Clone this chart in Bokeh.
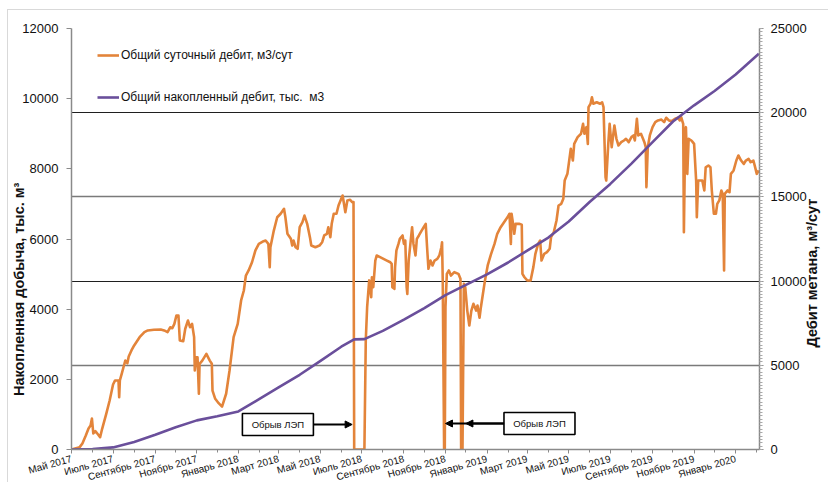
import math
import pandas as pd
from bokeh.plotting import figure
from bokeh.models import (Range1d, LinearAxis, FixedTicker, Legend, LegendItem,
                          Arrow, NormalHead, Grid)
from bokeh.embed import file_html
from bokeh.resources import INLINE
from bokeh.core.properties import value

FONT = "Liberation Sans"

# Total daily methane rate, m3/day (right axis)
rate_dates = [
    "2017-05-01", "2017-05-13", "2017-05-17", "2017-05-22", "2017-05-26", "2017-05-29",
    "2017-05-31", "2017-06-02", "2017-06-05", "2017-06-09", "2017-06-12", "2017-06-15",
    "2017-06-21", "2017-06-26", "2017-07-01", "2017-07-04", "2017-07-09", "2017-07-10",
    "2017-07-11", "2017-07-14", "2017-07-17", "2017-07-19", "2017-07-22", "2017-07-24",
    "2017-07-28", "2017-08-01", "2017-08-09", "2017-08-16", "2017-08-21", "2017-08-30",
    "2017-09-09", "2017-09-14", "2017-09-19", "2017-09-23", "2017-09-26", "2017-09-29",
    "2017-10-02", "2017-10-05", "2017-10-07", "2017-10-12", "2017-10-15", "2017-10-19",
    "2017-10-22", "2017-10-25", "2017-10-28", "2017-10-29", "2017-10-31", "2017-11-02",
    "2017-11-04", "2017-11-05", "2017-11-09", "2017-11-15", "2017-11-20", "2017-11-23",
    "2017-11-24", "2017-11-28", "2017-12-03", "2017-12-08", "2017-12-14", "2017-12-19",
    "2017-12-25", "2017-12-31", "2018-01-05", "2018-01-09", "2018-01-12", "2018-01-16",
    "2018-01-21", "2018-01-26", "2018-01-31", "2018-02-07", "2018-02-10", "2018-02-14",
    "2018-02-16", "2018-02-17", "2018-02-22", "2018-02-27", "2018-03-04", "2018-03-09",
    "2018-03-11", "2018-03-14", "2018-03-19", "2018-03-21", "2018-03-23", "2018-03-26",
    "2018-03-29", "2018-04-01", "2018-04-05", "2018-04-08", "2018-04-12", "2018-04-16",
    "2018-04-18", "2018-04-24", "2018-04-30", "2018-05-04", "2018-05-07", "2018-05-11",
    "2018-05-13", "2018-05-16", "2018-05-18", "2018-05-21", "2018-05-25", "2018-05-28",
    "2018-06-01", "2018-06-03", "2018-06-05", "2018-06-07", "2018-06-10", "2018-06-14",
    "2018-06-17", "2018-06-19", "2018-06-20", "2018-07-05", "2018-07-07", "2018-07-09",
    "2018-07-12", "2018-07-15", "2018-07-16", "2018-07-18", "2018-07-21", "2018-07-23",
    "2018-07-28", "2018-08-02", "2018-08-07", "2018-08-12", "2018-08-14", "2018-08-15",
    "2018-08-18", "2018-08-19", "2018-08-21", "2018-08-24", "2018-08-26", "2018-08-30",
    "2018-09-01", "2018-09-03", "2018-09-05", "2018-09-06", "2018-09-08", "2018-09-11",
    "2018-09-13", "2018-09-15", "2018-09-18", "2018-09-20", "2018-09-23", "2018-09-27",
    "2018-09-30", "2018-10-03", "2018-10-05", "2018-10-07", "2018-10-10", "2018-10-13",
    "2018-10-16", "2018-10-20", "2018-10-23", "2018-10-26", "2018-10-27", "2018-10-28",
    "2018-10-30", "2018-10-31", "2018-11-01", "2018-11-03", "2018-11-06", "2018-11-09",
    "2018-11-14", "2018-11-20", "2018-11-23", "2018-11-24", "2018-11-26", "2018-11-28",
    "2018-11-30", "2018-12-03", "2018-12-06", "2018-12-09", "2018-12-12", "2018-12-16",
    "2018-12-18", "2018-12-21", "2018-12-23", "2018-12-26", "2018-12-29", "2019-01-02",
    "2019-01-07", "2019-01-12", "2019-01-16", "2019-01-21", "2019-01-26", "2019-01-31",
    "2019-02-03", "2019-02-05", "2019-02-06", "2019-02-09", "2019-02-10", "2019-02-12",
    "2019-02-17", "2019-02-21", "2019-02-22", "2019-02-25", "2019-03-01", "2019-03-06",
    "2019-03-10", "2019-03-13", "2019-03-17", "2019-03-20", "2019-03-22", "2019-03-26",
    "2019-03-30", "2019-04-03", "2019-04-05", "2019-04-09", "2019-04-13", "2019-04-16",
    "2019-04-20", "2019-04-23", "2019-04-25", "2019-04-29", "2019-05-03", "2019-05-04",
    "2019-05-07", "2019-05-09", "2019-05-14", "2019-05-19", "2019-05-22", "2019-05-24",
    "2019-05-27", "2019-05-29", "2019-05-30", "2019-06-02", "2019-06-04", "2019-06-06",
    "2019-06-11", "2019-06-16", "2019-06-19", "2019-06-21", "2019-06-24", "2019-06-25",
    "2019-06-28", "2019-06-30", "2019-07-03", "2019-07-07", "2019-07-10", "2019-07-13",
    "2019-07-17", "2019-07-21", "2019-07-24", "2019-07-28", "2019-08-01", "2019-08-04",
    "2019-08-06", "2019-08-09", "2019-08-11", "2019-08-15", "2019-08-18", "2019-08-20",
    "2019-08-22", "2019-08-23", "2019-08-25", "2019-08-28", "2019-09-01", "2019-09-05",
    "2019-09-09", "2019-09-14", "2019-09-18", "2019-09-21", "2019-09-25", "2019-09-29",
    "2019-10-04", "2019-10-08", "2019-10-11", "2019-10-13", "2019-10-16", "2019-10-17",
    "2019-10-19", "2019-10-20", "2019-10-22", "2019-10-24", "2019-10-28", "2019-10-30",
    "2019-11-01", "2019-11-04", "2019-11-05", "2019-11-07", "2019-11-11", "2019-11-13",
    "2019-11-16", "2019-11-18", "2019-11-22", "2019-11-25", "2019-11-27", "2019-11-30",
    "2019-12-03", "2019-12-05", "2019-12-08", "2019-12-11", "2019-12-13", "2019-12-15",
    "2019-12-16", "2019-12-20", "2019-12-23", "2019-12-25", "2019-12-29", "2020-01-02",
    "2020-01-05", "2020-01-09", "2020-01-13", "2020-01-16", "2020-01-20", "2020-01-23",
    "2020-01-27", "2020-01-29", "2020-02-01", "2020-02-04",
]
rate_values = [
    0, 140, 360, 830, 1250, 1420,
    1840, 950, 1090, 890, 730, 1230,
    2120, 2910, 3860, 4100, 4100, 3100,
    4100, 4530, 4990, 5280, 5120, 5520,
    5880, 6180, 6670, 6970, 7070, 7110,
    7130, 7070, 6970, 7260, 7200, 7460,
    7960, 7960, 6470, 6430, 7170, 7660,
    7260, 7460, 6670, 4690, 5480, 5480,
    3310, 5090, 5280, 5680, 5280, 5090,
    3500, 3010, 2750, 2550, 3310, 4690,
    6670, 7460, 8850, 9440, 10330, 10630,
    11120, 11820, 12210, 12370, 12410, 12210,
    10830, 12010, 13000, 13790, 14000, 14290,
    13790, 12810, 12510, 12110, 12410, 12010,
    11920, 13200, 13500, 13890, 13400, 12610,
    12110, 12010, 12110, 12310, 12710, 12810,
    13200, 12610, 13400, 14000, 14000, 14490,
    14890, 15080, 14590, 14090, 14790, 14830,
    14690, 14690, 0, 0, 6470, 8450,
    10040, 9040, 10230, 9640, 11220, 11520,
    11420, 11320, 11220, 11120, 11020, 9640,
    9540, 10830, 11820, 12210, 12510, 12710,
    12210, 12410, 9640, 9240, 11220, 12410,
    13200, 12210, 11520, 12510, 12710, 13000,
    13200, 13400, 12010, 10730, 11220, 10930,
    11220, 11320, 11520, 12010, 12310, 10040,
    0, 0, 8450, 10430, 10630, 10330,
    10530, 10430, 10140, 0, 0, 9840,
    9640, 8250, 7360, 8250, 8650, 8250,
    8550, 7820, 8450, 9250, 10040, 10930,
    11620, 12210, 12810, 13200, 13500, 13790,
    14000, 12210, 14000, 13200, 12810, 13400,
    13400, 13350, 10430, 10230, 10040, 10040,
    10830, 11620, 12210, 12410, 11220, 11620,
    11720, 11920, 12610, 12900, 13600, 14490,
    14590, 14890, 15970, 16370, 17560, 17860,
    17160, 18150, 18550, 18750, 19340, 18750,
    19140, 18150, 20330, 20530, 20920, 20530,
    20620, 20530, 20620, 20330, 16170, 15970,
    18150, 19340, 17950, 19240, 18450, 18050,
    18250, 18350, 18450, 18250, 18550, 18650,
    18350, 19640, 18650, 18750, 18450, 18250,
    17950, 15580, 17950, 18650, 19140, 19440,
    19540, 19590, 19440, 19700, 19540, 19500,
    19640, 19700, 19540, 19730, 19340, 12900,
    18940, 19140, 16370, 18450, 18350, 18250,
    18150, 15970, 13790, 15970, 15970, 15970,
    15380, 16760, 16860, 16760, 15380, 14000,
    14000, 14590, 14790, 15380, 15180, 10630,
    15180, 15380, 15280, 16370, 16570, 17160,
    17460, 17160, 16960, 17160, 17260, 17060,
    17160, 16860, 16370, 16570,
]

# Total cumulative production, thousand m3 (left axis)
cum_dates = [
    "2017-05-01", "2017-06-01", "2017-07-01", "2017-08-01", "2017-09-01", "2017-10-01",
    "2017-11-01", "2017-12-01", "2018-01-01", "2018-02-01", "2018-03-01", "2018-04-01",
    "2018-05-01", "2018-06-01", "2018-06-20", "2018-07-05", "2018-08-01", "2018-09-01",
    "2018-10-01", "2018-11-01", "2018-12-01", "2019-01-01", "2019-02-01", "2019-03-01",
    "2019-04-01", "2019-05-01", "2019-06-01", "2019-07-01", "2019-08-01", "2019-09-01",
    "2019-10-01", "2019-11-01", "2019-12-01", "2020-01-01", "2020-02-04",
]
cum_values = [
    0, 10, 60, 215, 420, 635,
    830, 945, 1085, 1440, 1770, 2130,
    2520, 2930, 3140, 3145, 3380, 3700,
    4030, 4400, 4690, 4990, 5330, 5670,
    6040, 6500, 7060, 7570, 8150, 8760,
    9350, 9810, 10220, 10690, 11280,
]

# Date axis: labelled every second month, minor tick every month
tick_dates = [
    "2017-05-01", "2017-07-01", "2017-09-01", "2017-11-01", "2018-01-01", "2018-03-01",
    "2018-05-01", "2018-07-01", "2018-09-01", "2018-11-01", "2019-01-01", "2019-03-01",
    "2019-05-01", "2019-07-01", "2019-09-01", "2019-11-01", "2020-01-01",
]
tick_labels = [
    "Май 2017", "Июль 2017", "Сентябрь 2017", "Ноябрь 2017", "Январь 2018", "Март 2018",
    "Май 2018", "Июль 2018", "Сентябрь 2018", "Ноябрь 2018", "Январь 2019", "Март 2019",
    "Май 2019", "Июль 2019", "Сентябрь 2019", "Ноябрь 2019", "Январь 2020",
]

left_ticks = [0, 2000, 4000, 6000, 8000, 10000, 12000]
right_ticks = [0, 5000, 10000, 15000, 20000, 25000]

left_title = "Накопленная добыча, тыс. м³"
right_title = "Дебит метана, м³/сут"
# rate level (m3/day) where the right-hand title begins
right_title_start = 6050

# Power-line outage notes: box centre, and the dates the arrows point at
note_text = "Обрыв ЛЭП"
note_box_dates = ["2018-02-28", "2019-03-19"]
note_box_levels = [713, 741]
note_arrow_from = ["2018-04-21", "2019-01-26", "2019-01-26"]
note_arrow_to = ["2018-06-17", "2018-11-01", "2018-12-01"]
note_arrow_levels = [713, 741, 741]


def ms(d):
    return int(pd.Timestamp(d).value // 1_000_000)


ORANGE = "#E3843A"
PURPLE = "#6A4F9B"
AXIS_GREY = "#8a8a8a"
NBSP = "\u00a0"

p = figure(
    width=823, height=480,
    x_axis_type="datetime",
    x_range=Range1d(ms("2017-05-01"), ms("2020-02-05")),
    y_range=Range1d(0, 12000),
    output_backend="svg", toolbar_location=None,
    min_border_left=62, min_border_right=69, min_border_top=18, min_border_bottom=41,
    margin=(10, 0, 0, 8),
    styles={"outline": "1px solid #d9d9d9"},
)
p.outline_line_color = None
p.background_fill_color = "white"
p.border_fill_color = "white"

# Left axis: cumulative production (title sits a little below the axis middle)
yl = p.yaxis[0]
yl.ticker = FixedTicker(ticks=left_ticks, minor_ticks=[])
yl.axis_line_color = AXIS_GREY
yl.axis_line_width = 1.5
yl.major_tick_line_color = AXIS_GREY
yl.major_tick_out = 5
yl.major_tick_in = 0
yl.major_label_standoff = 8
yl.major_label_text_font = FONT
yl.major_label_text_font_size = "13px"
yl.major_label_text_color = "#111111"
yl.axis_label = left_title + NBSP * 25
yl.axis_label_standoff = -8
yl.axis_label_text_font = FONT
yl.axis_label_text_font_size = "14.5px"
yl.axis_label_text_font_style = "bold"
yl.axis_label_text_color = "#111111"

# Right axis: daily rate
p.extra_y_ranges = {"rate": Range1d(0, 25000)}
yr = LinearAxis(
    y_range_name="rate",
    ticker=FixedTicker(ticks=right_ticks, minor_ticks=list(range(0, 25001, 200))),
)
yr.axis_line_color = AXIS_GREY
yr.axis_line_width = 1.5
yr.major_tick_line_color = AXIS_GREY
yr.major_tick_out = 4
yr.major_tick_in = 0
yr.minor_tick_line_color = "#a8a8a8"
yr.minor_tick_out = 3
yr.minor_tick_in = 0
yr.major_label_standoff = 7
yr.major_label_text_font = FONT
yr.major_label_text_font_size = "13px"
yr.major_label_text_color = "#111111"
p.add_layout(yr, "right")

# Right-hand title, written bottom-to-top like the left one
yt = LinearAxis(
    y_range_name="rate",
    ticker=FixedTicker(ticks=[right_title_start], minor_ticks=[]),
    major_label_overrides={right_title_start: right_title},
    major_label_orientation=math.pi / 2,
    axis_line_color=None, major_tick_line_color=None,
    major_tick_out=0, major_tick_in=0, major_label_standoff=3,
    major_label_text_font=FONT, major_label_text_font_size="14.5px",
    major_label_text_font_style="bold", major_label_text_color="#111111",
)
p.add_layout(yt, "right")

# Bottom date axis with Russian month names
xa = p.xaxis[0]
month_starts = pd.date_range("2017-05-01", "2020-02-01", freq="MS")
xa.ticker = FixedTicker(ticks=[ms(d) for d in tick_dates],
                        minor_ticks=[ms(d) for d in month_starts])
xa.major_label_overrides = {ms(d): lab for d, lab in zip(tick_dates, tick_labels)}
xa.major_label_orientation = 0.27
xa.major_label_text_font = FONT
xa.major_label_text_font_size = "10px"
xa.major_label_text_color = "#111111"
xa.major_label_standoff = 5
xa.axis_line_color = AXIS_GREY
xa.axis_line_width = 1.5
xa.major_tick_line_color = AXIS_GREY
xa.minor_tick_line_color = AXIS_GREY
xa.major_tick_out = 4
xa.major_tick_in = 0
xa.minor_tick_out = 3
xa.minor_tick_in = 0

# Horizontal grid follows the right-axis steps (5000 m3/day = 2400 thousand m3)
grid_levels = [v * 12000 / 25000 for v in right_ticks[1:]]
p.xgrid.visible = False
p.ygrid.ticker = FixedTicker(ticks=grid_levels[1::2] + [grid_levels[-1]])
p.ygrid.grid_line_color = "#1f1f1f"
p.ygrid.grid_line_width = 1
p.add_layout(Grid(dimension=1, ticker=FixedTicker(ticks=grid_levels[0::2][:2]),
                  grid_line_color="#7a7a7a", grid_line_width=1.6))

r_rate = p.line(pd.to_datetime(rate_dates), rate_values, y_range_name="rate",
                line_color=ORANGE, line_width=2.6, line_join="round")
r_cum = p.line(pd.to_datetime(cum_dates), cum_values,
               line_color=PURPLE, line_width=2.6, line_join="round")

# Outage notes
p.rect(pd.to_datetime(note_box_dates), note_box_levels, width=71, height=22,
       width_units="screen", height_units="screen",
       fill_color="white", line_color="black", line_width=1.6)
p.text(pd.to_datetime(note_box_dates), note_box_levels, text=[note_text] * 2,
       text_align="center", text_baseline="middle",
       text_font=value(FONT), text_font_size="9.5px", text_color="#111111")
for a, b, lvl in zip(note_arrow_from, note_arrow_to, note_arrow_levels):
    p.add_layout(Arrow(
        end=NormalHead(size=7, fill_color="black", line_color="black", line_width=1),
        x_start=ms(a), y_start=lvl, x_end=ms(b), y_end=lvl,
        line_color="black", line_width=2,
    ))

legend = Legend(
    items=[
        LegendItem(label="Общий суточный дебит, м3/сут", renderers=[r_rate]),
        LegendItem(label="Общий накопленный дебит, тыс.  м3", renderers=[r_cum]),
    ],
    location=(26, 342),
    background_fill_alpha=0, border_line_color=None,
    padding=0, margin=0, spacing=22,
    glyph_width=22, glyph_height=20, label_height=20, label_standoff=2,
    label_text_font=FONT, label_text_font_size="12px", label_text_color="#111111",
)
p.add_layout(legend)

open("out.html", "w").write(file_html(p, INLINE))
